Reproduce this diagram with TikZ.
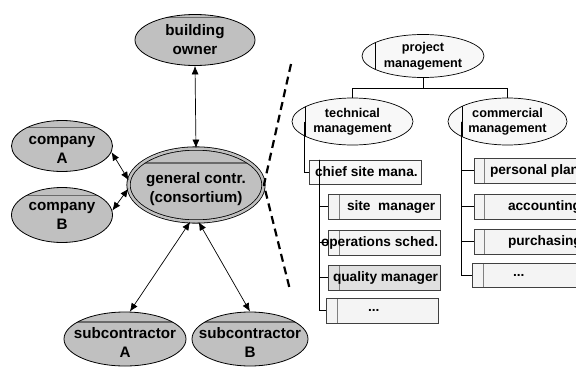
\documentclass[tikz,border=0pt]{standalone}
\usepackage{fontspec}
\setmainfont{Liberation Sans}
\usetikzlibrary{shapes.geometric,arrows.meta}
\definecolor{ellgray}{HTML}{C0C0C0}
\definecolor{hdrgray}{HTML}{6A6A6A}
\definecolor{lightfill}{HTML}{F8F8F8}
\definecolor{boxfill}{HTML}{F4F4F4}
\definecolor{qualfill}{HTML}{E0E0E0}
\definecolor{sepgray}{HTML}{808080}
\definecolor{boxline}{HTML}{404040}
\begin{document}
\begin{tikzpicture}[x=1pt,y=-1pt,
  lell/.style={ellipse, draw, fill=ellgray, line width=0.8pt, inner sep=0pt},
  hdr/.style={path picture={\draw[hdrgray,line width=1.3pt]
     ([yshift=-#1]path picture bounding box.north west) --
     ([yshift=-#1]path picture bounding box.north east);}},
  ltxt/.style={font=\fontsize{15.2}{19}\selectfont\bfseries, align=center, inner sep=0pt},
  rell/.style={ellipse, draw, fill=lightfill, line width=0.7pt, inner sep=0pt,
     font=\fontsize{12.7}{15.5}\selectfont\bfseries, align=center},
  vsep/.style={path picture={\draw[black,line width=0.7pt]
     ([xshift=#1]path picture bounding box.north west) --
     ([xshift=#1]path picture bounding box.south west);}},
  rbox/.style={rectangle, draw=boxline, fill=boxfill, line width=0.7pt, minimum height=25pt,
     inner sep=0pt, font=\fontsize{13.7}{16}\selectfont\bfseries},
  bsep/.style={path picture={\draw[sepgray,line width=0.8pt]
     ([xshift=#1]path picture bounding box.north west) --
     ([xshift=#1]path picture bounding box.south west);}},
  link/.style={line width=0.7pt, {Latex[length=8.5pt,width=7pt]}-{Latex[length=8.5pt,width=7pt]}},
  tree/.style={line width=0.7pt, black},
  dashln/.style={line width=2.2pt, dash pattern=on 8pt off 5pt}
]
\useasboundingbox (0,0) rectangle (576,367);
\clip (0,0) rectangle (576,367);

% ---- left side ----
\node[lell, hdr=3pt, minimum width=120pt, minimum height=51pt,
  label={[ltxt]center:{building\\owner}}] (owner) at (195,40) {};
\node[lell, hdr=7pt, minimum width=101pt, minimum height=51pt,
  label={[ltxt,yshift=-4pt]center:{company\\A}}] (compA) at (62,146) {};
\node[lell, hdr=8pt, minimum width=101pt, minimum height=55pt,
  label={[ltxt,yshift=-1pt]center:{company\\B}}] (compB) at (62,215) {};
\node[lell, double=ellgray, double distance=2.5pt, hdr=14.5pt,
  minimum width=135pt, minimum height=73pt,
  label={[ltxt,yshift=-4pt]center:{general contr.\\(consortium)}}] (gen) at (196,185) {};
\node[lell, hdr=10pt, minimum width=122pt, minimum height=54pt,
  label={[ltxt,yshift=-3pt]center:{subcontractor\\A}}] (subA) at (125,339) {};
\node[lell, hdr=10pt, minimum width=116pt, minimum height=54pt,
  label={[ltxt,yshift=-3pt]center:{subcontractor\\B}}] (subB) at (250,339) {};

\draw[link] (owner.south) -- (gen.north);
\draw[link] (compA.-7) -- (gen.176);
\draw[link] (compB.5) -- (gen.183);
\draw[link] (gen.261) -- (subA.80);
\draw[link] (gen.274) -- (subB.90);

\coordinate (dtop) at (291,64);
\coordinate (dbot) at (290,290);
\draw[dashln] (dtop) -- (gen.east) -- (dbot);

% ---- right side ----
\node[rell, vsep=13pt, minimum width=122pt, minimum height=43pt] (proj) at (423,56) {project\\management};
\node[rell, vsep=13pt, minimum width=121pt, minimum height=47pt] (tech) at (352.5,121.5) {technical\\management};
\node[rell, vsep=14pt, minimum width=119pt, minimum height=47pt] (comm) at (507.5,121.5) {commercial\\management};

\draw[tree] (proj.south) -- ++(0,10) coordinate (fork);
\draw[tree] (fork) -| (tech.north);
\draw[tree] (fork) -| (comm.north);

\node[rbox, fill=lightfill, minimum height=24pt] (chief) at (365,172)
  {\makebox[112pt][l]{\hspace*{6pt}chief site mana.}};
\node[rbox, bsep=11pt] (site) at (384,206.5) {\makebox[112pt][l]{\hspace*{19pt}site~~manager}};
\node[rbox, bsep=11pt] (ops) at (384,242.5) {\makebox[112pt][l]{\hspace*{-7pt}operations sched.}};
\node[rbox, bsep=11pt, fill=qualfill] (qual) at (384,277.5) {\makebox[112pt][l]{\hspace*{5pt}quality manager}};
\node[rbox, bsep=11pt] (ldots) at (382,310.5) {\makebox[112pt][l]{\hspace*{42pt}...}};

\node[rbox, bsep=10pt] (pp) at (537,170.5) {\makebox[126pt][l]{\hspace*{16pt}personal plan}};
\node[rbox, bsep=10pt] (acc) at (537,206.5) {\makebox[126pt][l]{\hspace*{34pt}accounting}};
\node[rbox, bsep=10pt] (pur) at (537,241.5) {\makebox[126pt][l]{\hspace*{34pt}purchasing}};
\node[rbox, bsep=11pt, minimum height=24pt] (rdots) at (536,275) {\makebox[128pt][l]{\hspace*{41pt}...}};

\draw[tree] ([xshift=13pt]tech.west) |- (chief.west);
\draw[tree] ([xshift=11pt]chief.north west) |- (site.west);
\draw[tree] ([xshift=11pt]chief.north west) |- (ops.west);
\draw[tree] ([xshift=11pt]chief.north west) |- (qual.west);
\draw[tree] ([xshift=11pt]chief.north west) |- (ldots.west);

\draw[tree] ([xshift=14pt]comm.west) |- (pp.west);
\draw[tree] ([xshift=14pt]comm.west) |- (acc.west);
\draw[tree] ([xshift=14pt]comm.west) |- (pur.west);
\draw[tree] ([xshift=14pt]comm.west) |- (rdots.west);
\end{tikzpicture}
\end{document}
